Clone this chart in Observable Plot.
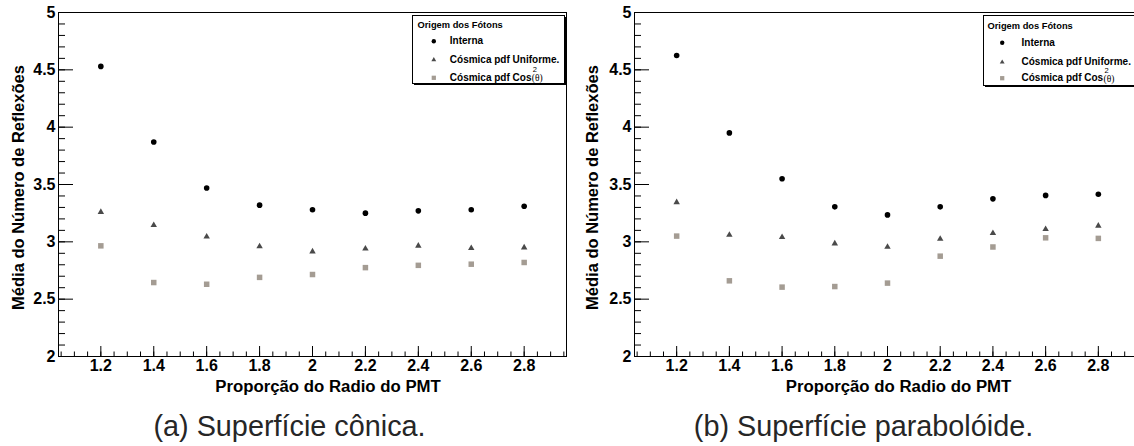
<!DOCTYPE html>
<html>
<head>
<meta charset="utf-8">
<script src="https://cdn.jsdelivr.net/npm/d3@7"></script>
<script src="https://cdn.jsdelivr.net/npm/@observablehq/plot@0.6"></script>
<style>
  html, body { margin: 0; padding: 0; background: #fff; overflow: hidden; width: 1134px; height: 446px; }
  #wrap { position: relative; width: 1134px; height: 446px; overflow: hidden; background: #fff; }
  #wrap > svg { position: absolute; top: 0; }
</style>
</head>
<body>
<div id="wrap"></div>
<script>
// ---- data ----
const xValues = [1.2, 1.4, 1.6, 1.8, 2.0, 2.2, 2.4, 2.6, 2.8];

const conicaInterna  = [4.53, 3.87, 3.47, 3.32, 3.28, 3.25, 3.27, 3.28, 3.31];
const conicaUniforme = [3.26, 3.145, 3.045, 2.96, 2.915, 2.94, 2.965, 2.945, 2.95];
const conicaCos2     = [2.965, 2.645, 2.63, 2.69, 2.715, 2.775, 2.795, 2.805, 2.82];

const paraInterna  = [4.625, 3.95, 3.55, 3.305, 3.235, 3.305, 3.375, 3.405, 3.415];
const paraUniforme = [3.345, 3.06, 3.04, 2.985, 2.955, 3.025, 3.075, 3.11, 3.14];
const paraCos2     = [3.05, 2.66, 2.605, 2.61, 2.64, 2.875, 2.955, 3.035, 3.03];

const xMajor = [1.2, 1.4, 1.6, 1.8, 2, 2.2, 2.4, 2.6, 2.8];
const yMajor = [2, 2.5, 3, 3.5, 4, 4.5, 5];
const xMinor = d3.range(21, 60).map(k => k * 0.05);   // 1.05 … 2.95
const yMinor = d3.range(21, 50).map(k => k / 10);      // 2.1 … 4.9

const xDomain = [1.04, 2.96];
const yDomain = [2, 5];

const xTitle = "Proporção do Radio do PMT";
const yTitle = "Média do Número de Reflexões";
const legendTitle = "Origem dos Fótons";
const seriesNames = ["Interna", "Cósmica pdf Uniforme.", "Cósmica pdf Cos"];
const captions = ["(a) Superfície cônica.", "(b) Superfície parabolóide."];

// ---- style ----
const H = 446, MT = 12, MB = 90;
const FONT = "'Liberation Sans', Arial, Helvetica, sans-serif";
const colInterna = "#000000", colUniforme = "#4a4a4a", colCos = "#a49c93";

function panel(o) {
  const plotW = o.width - o.marginLeft - o.marginRight;
  const plotH = H - MT - MB;
  const rows = xValues.map((x, i) => ({x, interna: o.interna[i], uniforme: o.uniforme[i], cos2: o.cos2[i]}));
  const lg = o.legend;
  const lt = (s, opts) => Plot.text([s], {frameAnchor: "top-left", textAnchor: "start", lineAnchor: "middle",
    text: d => d, fill: "#000", fontSize: 10, fontWeight: "bold", ...opts});
  const svg = Plot.plot({
    width: o.width, height: H,
    marginLeft: o.marginLeft, marginRight: o.marginRight, marginTop: MT, marginBottom: MB,
    x: {domain: xDomain, axis: null},
    y: {domain: yDomain, axis: null},
    style: {fontFamily: FONT, background: "transparent", maxWidth: "none", overflow: "visible"},
    marks: [
      Plot.frame({stroke: "#000", strokeWidth: 1}),
      Plot.tickX(xMinor, {x: d => d, insetTop: plotH - 4.5, stroke: "#000"}),
      Plot.tickX(xMajor, {x: d => d, insetTop: plotH - 10, stroke: "#000"}),
      Plot.tickY(yMinor, {y: d => d, insetRight: plotW - 7, stroke: "#000"}),
      Plot.tickY(yMajor, {y: d => d, insetRight: plotW - 15, stroke: "#000"}),
      Plot.text(xMajor, {x: d => d, frameAnchor: "bottom", lineAnchor: "top", dy: 3.5,
        text: d => String(d), fontSize: 16, fontWeight: "bold", fill: "#000"}),
      Plot.text(yMajor, {y: d => d, frameAnchor: "left", textAnchor: "end", lineAnchor: "middle", dx: -3,
        text: d => String(d), fontSize: 16, fontWeight: "bold", fill: "#000"}),
      Plot.text([xTitle], {frameAnchor: "bottom", lineAnchor: "middle", textAnchor: "middle",
        dx: o.xTitleDx, dy: 30, text: d => d, fontSize: 16.8, fontWeight: "bold", fill: "#000"}),
      Plot.text([yTitle], {frameAnchor: "left", rotate: -90, textAnchor: "middle", lineAnchor: "middle",
        dx: o.yTitleDx, dy: 3, text: d => d, fontSize: 16.5, fontWeight: "bold", fill: "#000"}),
      Plot.text([o.caption], {frameAnchor: "bottom", lineAnchor: "middle", textAnchor: "middle",
        dx: o.captionDx, dy: 70.5, text: d => d, fontSize: 28.8, fill: "#262626"}),
      // data
      Plot.dot(rows, {x: "x", y: "cos2", symbol: "square", r: 3.1, fill: colCos}),
      Plot.dot(rows, {x: "x", y: "uniforme", symbol: "triangle", r: 2.4, fill: colUniforme}),
      Plot.dot(rows, {x: "x", y: "interna", symbol: "circle", r: 2.8, fill: colInterna}),
      // legend box
      Plot.frame({insetLeft: lg.left + 1.5, insetRight: lg.right - 1.5, insetTop: 4.5, insetBottom: lg.bottom - 1.5, fill: "#000"}),
      Plot.frame({insetLeft: lg.left, insetRight: lg.right, insetTop: 3, insetBottom: lg.bottom, fill: "#fff", stroke: "#000", strokeWidth: 1}),
      lt(legendTitle, {dx: lg.title, dy: lg.rows[0], fontSize: 9.3}),
      Plot.dot([0], {frameAnchor: "top-left", dx: lg.marker, dy: lg.rows[1], symbol: "circle", r: 2.2, fill: colInterna}),
      Plot.dot([0], {frameAnchor: "top-left", dx: lg.marker, dy: lg.rows[2], symbol: "triangle", r: 1.8, fill: colUniforme}),
      Plot.dot([0], {frameAnchor: "top-left", dx: lg.marker, dy: lg.rows[3], symbol: "square", r: 2.4, fill: colCos}),
      lt(seriesNames[0], {dx: lg.text, dy: lg.rows[1]}),
      lt(seriesNames[1], {dx: lg.text, dy: lg.rows[2]}),
      lt(seriesNames[2], {dx: lg.text, dy: lg.rows[3]}),
      lt("2", {dx: lg.text + 83, dy: lg.rows[3] - 8, fontSize: 7.5, fontWeight: "normal"}),
      lt("(θ)", {dx: lg.text + 82, dy: lg.rows[3] + 0.5, fontSize: 9.5, fontWeight: "normal",
        fontFamily: "'Liberation Serif', 'DejaVu Serif', serif"})
    ]
  });
  svg.style.left = o.left + "px";
  return svg;
}

const wrap = document.getElementById("wrap");
wrap.appendChild(panel({
  left: 0, width: 567, marginLeft: 58, marginRight: 1,
  interna: conicaInterna, uniforme: conicaUniforme, cos2: conicaCos2,
  caption: captions[0], captionDx: -23, xTitleDx: 15.5, yTitleDx: -40,
  legend: {left: 354, right: 2, bottom: 273, title: 359, marker: 375.3, text: 391.3, rows: [13, 28.7, 47.3, 65.3]}
}));
wrap.appendChild(panel({
  left: 567, width: 573, marginLeft: 67, marginRight: 0,
  interna: paraInterna, uniforme: paraUniforme, cos2: paraCos2,
  caption: captions[1], captionDx: -24, xTitleDx: 11, yTitleDx: -42,
  legend: {left: 349, right: 5, bottom: 271, title: 353, marker: 367.7, text: 387, rows: [13.7, 30.3, 49.7, 65.7]}
}));
</script>
</body>
</html>
